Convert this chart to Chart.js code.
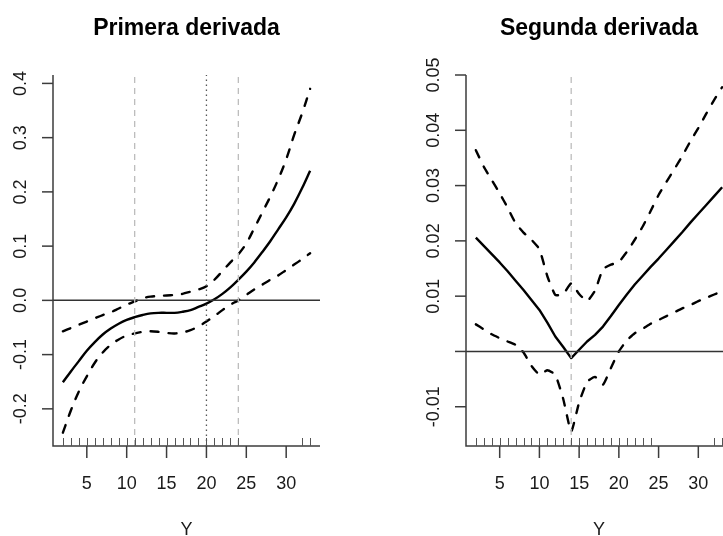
<!DOCTYPE html>
<html>
<head>
<meta charset="utf-8">
<script src="https://cdn.jsdelivr.net/npm/chart.js@4/dist/chart.umd.min.js"></script>
<style>
  html, body { margin: 0; padding: 0; background: #fff; overflow: hidden; }
  #wrap { position: relative; width: 723px; height: 536px; overflow: hidden; }
  #c1 { position: absolute; left: 0; top: 0; }
  #c2 { position: absolute; left: 361px; top: 0; }
</style>
</head>
<body>
<div id="wrap">
  <canvas id="c1" width="361" height="536"></canvas>
  <canvas id="c2" width="400" height="536"></canvas>
</div>
<script>
// Evaluation grid (Y)
const yGrid = [2, 3, 4, 5, 6, 7, 8, 9, 10, 11, 12, 13, 14, 15, 16, 17,
               18, 19, 20, 21, 22, 23, 24, 25, 26, 27, 28, 29, 30, 31, 32, 33];

// First derivative: estimate and confidence band
const d1Fit = [-0.151, -0.131, -0.112, -0.093, -0.077, -0.063, -0.052, -0.043,
               -0.036, -0.031, -0.027, -0.024, -0.023, -0.023, -0.023, -0.021,
               -0.018, -0.012, -0.006, 0.002, 0.012, 0.024, 0.038, 0.053,
               0.070, 0.089, 0.109, 0.131, 0.153, 0.178, 0.207, 0.239];
const d1Upper = [-0.057, -0.051, -0.045, -0.039, -0.033, -0.027, -0.022, -0.015,
                 -0.008, -0.002, 0.004, 0.007, 0.008, 0.009, 0.010, 0.012,
                 0.016, 0.020, 0.026, 0.038, 0.054, 0.070, 0.085, 0.105,
                 0.133, 0.162, 0.191, 0.223, 0.260, 0.305, 0.345, 0.390];
const d1Lower = [-0.244, -0.203, -0.168, -0.140, -0.115, -0.096, -0.082, -0.072,
                 -0.065, -0.061, -0.058, -0.057, -0.058, -0.060, -0.061, -0.059,
                 -0.055, -0.048, -0.039, -0.029, -0.018, -0.008, 0.000, 0.010,
                 0.020, 0.029, 0.038, 0.046, 0.056, 0.066, 0.076, 0.087];

// Second derivative: estimate and confidence band
const d2Fit = [0.0206, 0.0191, 0.0176, 0.0161, 0.0145, 0.0128, 0.0111, 0.0093,
               0.0075, 0.0052, 0.0027, 0.0008, -0.0012, 0.0003, 0.0018, 0.0030,
               0.0045, 0.0064, 0.0084, 0.0103, 0.0121, 0.0137, 0.0153, 0.0168,
               0.0184, 0.0200, 0.0216, 0.0233, 0.0249, 0.0265, 0.0281, 0.0297];
const d2Upper = [0.0364, 0.0334, 0.0310, 0.0286, 0.0260, 0.0232, 0.0215, 0.0202,
                 0.0185, 0.0136, 0.0102, 0.0104, 0.0123, 0.0104, 0.0091, 0.0110,
                 0.0149, 0.0157, 0.0162, 0.0180, 0.0202, 0.0226, 0.0254, 0.0283,
                 0.0307, 0.0330, 0.0354, 0.0380, 0.0404, 0.0430, 0.0455, 0.0478];
const d2Lower = [0.0049, 0.0040, 0.0031, 0.0024, 0.0018, 0.0012, -0.0002, -0.0026,
                 -0.0042, -0.0034, -0.0042, -0.0086, -0.0145, -0.0092, -0.0055, -0.0046,
                 -0.0060, -0.0030, 0.0000, 0.0020, 0.0033, 0.0041, 0.0050, 0.0057,
                 0.0064, 0.0071, 0.0078, 0.0084, 0.0091, 0.0097, 0.0103, 0.0109];

// Observed Y values shown as a rug
const rugY = [2, 3, 4, 5, 6, 7, 8, 9, 10, 11, 12, 13, 14, 15, 16, 17,
              18, 19, 20, 21, 22, 23, 24, 32, 33];

// Axis ticks and labels
const xTicks = [5, 10, 15, 20, 25, 30];
const xTickLabels = ['5', '10', '15', '20', '25', '30'];
const d1YTicks = [-0.2, -0.1, 0, 0.1, 0.2, 0.3, 0.4];
const d1YTickLabels = ['-0.2', '-0.1', '0.0', '0.1', '0.2', '0.3', '0.4'];
const d2YTicks = [-0.01, 0, 0.01, 0.02, 0.03, 0.04, 0.05];
const d2YTickLabels = ['-0.01', '', '0.01', '0.02', '0.03', '0.04', '0.05'];

// Reference lines
const d1DashedV = [11, 24];
const d1DottedV = [20];
const d2DashedV = [14];

// Axis ranges
const xMin = 0.76, xMax = 34.24;
const d1YMin = -0.2685, d1YMax = 0.4155;
const d2YMin = -0.0171, d2YMax = 0.0500;

const FONT = '"Liberation Sans", Arial, sans-serif';

function pts(xv, yv) { return xv.map((x, i) => ({ x: x, y: yv[i] })); }

function curve(values, dashed, tension) {
  return {
    data: pts(yGrid, values),
    borderColor: '#000',
    borderWidth: 2.4,
    borderDash: dashed ? [8, 10] : [],
    borderCapStyle: dashed ? 'round' : 'butt',
    borderJoinStyle: 'round',
    tension: tension,
    pointRadius: 0,
    fill: false
  };
}

function vline(x, yMin, yMax, kind) {
  return {
    data: [{ x: x, y: yMin }, { x: x, y: yMax }],
    borderColor: kind === 'dotted' ? '#555' : '#bdbdbd',
    borderWidth: kind === 'dotted' ? 1.3 : 1.3,
    borderDash: kind === 'dotted' ? [1.5, 3.5] : [6, 5],
    pointRadius: 0,
    tension: 0,
    fill: false
  };
}

function hzero() {
  return {
    data: [{ x: xMin, y: 0 }, { x: xMax, y: 0 }],
    borderColor: '#333',
    borderWidth: 1.5,
    pointRadius: 0,
    tension: 0,
    fill: false
  };
}

// Base-graphics style axes: L frame, outward ticks, rotated y labels, rug, titles
const baseAxes = {
  id: 'baseAxes',
  afterDraw(chart, args, o) {
    const ctx = chart.ctx;
    const a = chart.chartArea;
    const sx = chart.scales.x, sy = chart.scales.y;
    ctx.save();
    ctx.strokeStyle = '#3c3c3c';
    ctx.lineWidth = 1.5;
    ctx.lineCap = 'butt';
    ctx.beginPath();
    ctx.moveTo(a.left, a.top);
    ctx.lineTo(a.left, a.bottom);
    ctx.lineTo(a.right, a.bottom);
    ctx.stroke();

    // y ticks and labels
    ctx.fillStyle = '#1a1a1a';
    ctx.font = '18px ' + FONT;
    ctx.textAlign = 'center';
    ctx.textBaseline = 'middle';
    o.yTicks.forEach((v, i) => {
      const y = sy.getPixelForValue(v);
      ctx.beginPath();
      ctx.moveTo(a.left - 11, y);
      ctx.lineTo(a.left, y);
      ctx.stroke();
      if (o.yLabels[i]) {
        ctx.save();
        ctx.translate(a.left - 33, y);
        ctx.rotate(-Math.PI / 2);
        ctx.fillText(o.yLabels[i], 0, 1);
        ctx.restore();
      }
    });

    // x ticks and labels
    o.xTicks.forEach((v, i) => {
      const x = sx.getPixelForValue(v);
      ctx.beginPath();
      ctx.moveTo(x, a.bottom);
      ctx.lineTo(x, a.bottom + 12);
      ctx.stroke();
      ctx.fillText(o.xLabels[i], x, 484);
    });

    // rug
    ctx.strokeStyle = '#555';
    ctx.lineWidth = 1;
    o.rug.forEach(v => {
      const x = Math.round(sx.getPixelForValue(v)) + 0.5;
      ctx.beginPath();
      ctx.moveTo(x, a.bottom - 8);
      ctx.lineTo(x, a.bottom);
      ctx.stroke();
    });

    // titles
    const cx = (a.left + a.right) / 2;
    ctx.fillStyle = '#000';
    ctx.textBaseline = 'alphabetic';
    ctx.font = 'bold 23px ' + FONT;
    ctx.fillText(o.title, cx, 35);
    ctx.font = '18px ' + FONT;
    ctx.fillStyle = '#1a1a1a';
    ctx.fillText(o.xTitle, cx, 535);
    ctx.restore();
  }
};

function makeChart(id, datasets, yMin, yMax, padding, axes) {
  return new Chart(document.getElementById(id), {
    type: 'line',
    data: { datasets: datasets },
    options: {
      responsive: false,
      animation: false,
      events: [],
      layout: { padding: padding, autoPadding: false },
      scales: {
        x: { type: 'linear', min: xMin, max: xMax, display: false },
        y: { type: 'linear', min: yMin, max: yMax, display: false }
      },
      plugins: { legend: { display: false }, tooltip: { enabled: false }, baseAxes: axes }
    },
    plugins: [baseAxes]
  });
}

makeChart('c1', [
  ...d1DashedV.map(x => vline(x, d1YMin, d1YMax, 'dashed')),
  ...d1DottedV.map(x => vline(x, d1YMin, d1YMax, 'dotted')),
  hzero(),
  curve(d1Upper, true, 0.35),
  curve(d1Lower, true, 0.35),
  curve(d1Fit, false, 0.35)
], d1YMin, d1YMax, { left: 53, right: 41, top: 75, bottom: 90 }, {
  title: 'Primera derivada', xTitle: 'Y',
  yTicks: d1YTicks, yLabels: d1YTickLabels,
  xTicks: xTicks, xLabels: xTickLabels, rug: rugY
});

makeChart('c2', [
  ...d2DashedV.map(x => vline(x, d2YMin, d2YMax, 'dashed')),
  hzero(),
  curve(d2Upper, true, 0.15),
  curve(d2Lower, true, 0.15),
  curve(d2Fit, false, 0)
], d2YMin, d2YMax, { left: 105, right: 29, top: 75, bottom: 90 }, {
  title: 'Segunda derivada', xTitle: 'Y',
  yTicks: d2YTicks, yLabels: d2YTickLabels,
  xTicks: xTicks, xLabels: xTickLabels, rug: rugY
});
</script>
</body>
</html>
